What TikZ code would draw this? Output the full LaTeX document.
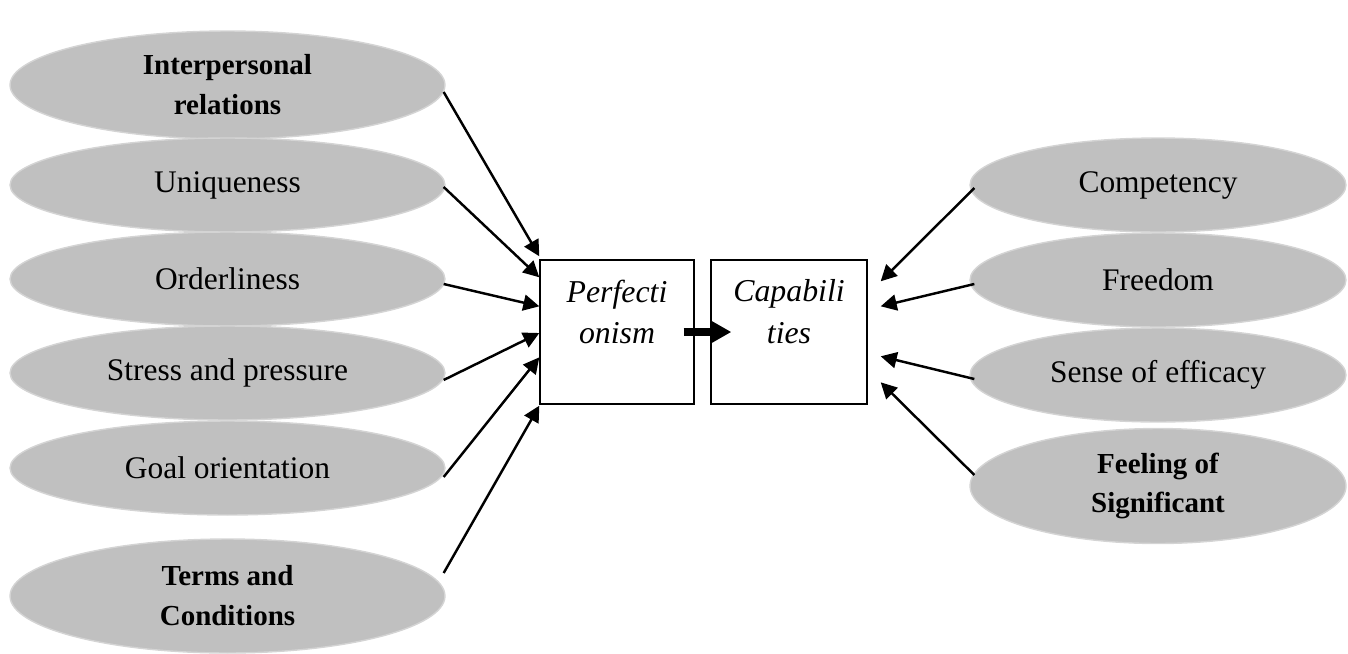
\documentclass[tikz,border=0pt]{standalone}
\usepackage{fontspec}
\setmainfont{Liberation Serif}
\usetikzlibrary{shapes.geometric,arrows.meta,calc}

\definecolor{ovalgray}{RGB}{192,192,192}
\definecolor{ovaledge}{RGB}{212,212,212}

\tikzset{
	oval/.style={ellipse, fill=ovalgray, draw=ovaledge, line width=0.8pt, inner sep=0pt, align=center, font=\fontsize{17.9}{22.7}\selectfont},
	ovalbf/.style={oval, font=\fontsize{16.5}{22.7}\selectfont\bfseries},
	leftoval/.style={minimum width=8.7cm, minimum height=1.88cm},
	rightoval/.style={minimum width=7.52cm, minimum height=1.88cm},
	box/.style={rectangle, draw, line width=0.8pt, inner sep=0pt},
	boxtext/.style={align=center, inner sep=0pt, font=\fontsize{18.1}{23.8}\selectfont\itshape},
	arr/.style={-{Triangle[length=0.32cm,width=0.32cm]}, line width=1.4pt},
	bigarr/.style={-{Triangle[length=0.42cm,width=0.44cm]}, line width=4.5pt}
}

\begin{document}
	\begin{tikzpicture}[x=0.02cm, y=-0.02cm]
		\useasboundingbox (0,0) rectangle (1348,653);

		% left factors
		\node[ovalbf, leftoval, minimum height=2.16cm] (ir) at (227.5,85) {Interpersonal\\relations};
		\node[oval, leftoval] (uq) at (227.5,185) {Uniqueness};
		\node[oval, leftoval] (od) at (227.5,279) {Orderliness};
		\node[oval, leftoval] (st) at (227.5,373) {Stress and pressure};
		\node[oval, leftoval] (go) at (227.5,468) {Goal orientation};
		\node[ovalbf, leftoval, minimum height=2.28cm] (tc) at (227.5,596) {Terms and\\Conditions};

		% right factors
		\node[oval, rightoval] (cp) at (1158,185) {Competency};
		\node[oval, rightoval] (fr) at (1158,280) {Freedom};
		\node[oval, rightoval] (se) at (1158,375) {Sense of efficacy};
		\node[ovalbf, rightoval, minimum height=2.3cm] (fe) at (1158,486) {Feeling of\\Significant};

		% the two boxes
		\node[box, minimum width=3.08cm, minimum height=2.88cm] (perf) at (617,332) {};
		\node[box, minimum width=3.12cm, minimum height=2.88cm] (cap) at (789,332) {};
		\node[boxtext] (perftxt) at ($(perf.center)+(0,-20)$) {Perfecti\\onism};
		\node[boxtext] (captxt) at ($(cap.center)+(0,-20)$) {Capabili\\ties};

		\draw[bigarr] ($(perf.east)+(-11,0)$) -- ($(cap.west)+(21,0)$);

		\draw[arr] ($(ir.east)+(-2,7)$) -- ($(perf.north west)+(0,-3)$);
		\draw[arr] ($(uq.east)+(-2,2)$) -- ($(perf.north west)+(0,18)$);
		\draw[arr] ($(od.east)+(-2,5)$) -- ($(perf.north west)+(0,47)$);
		\draw[arr] ($(st.east)+(-2,7)$) -- ($(perf.west)+(0,1)$);
		\draw[arr] ($(go.east)+(-2,9)$) -- ($(perf.north west)+(0,98)$);
		\draw[arr] ($(tc.east)+(-2,-23)$) -- ($(perf.south west)+(0,1)$);

		\draw[arr] ($(cp.west)+(5,3)$) -- ($(cap.north east)+(13,22)$);
		\draw[arr] ($(fr.west)+(5,4)$) -- ($(cap.north east)+(13,47)$);
		\draw[arr] ($(se.west)+(5,4)$) -- ($(cap.north east)+(13,97)$);
		\draw[arr] ($(fe.west)+(5,-11)$) -- ($(cap.north east)+(13,123)$);
	\end{tikzpicture}
\end{document}
